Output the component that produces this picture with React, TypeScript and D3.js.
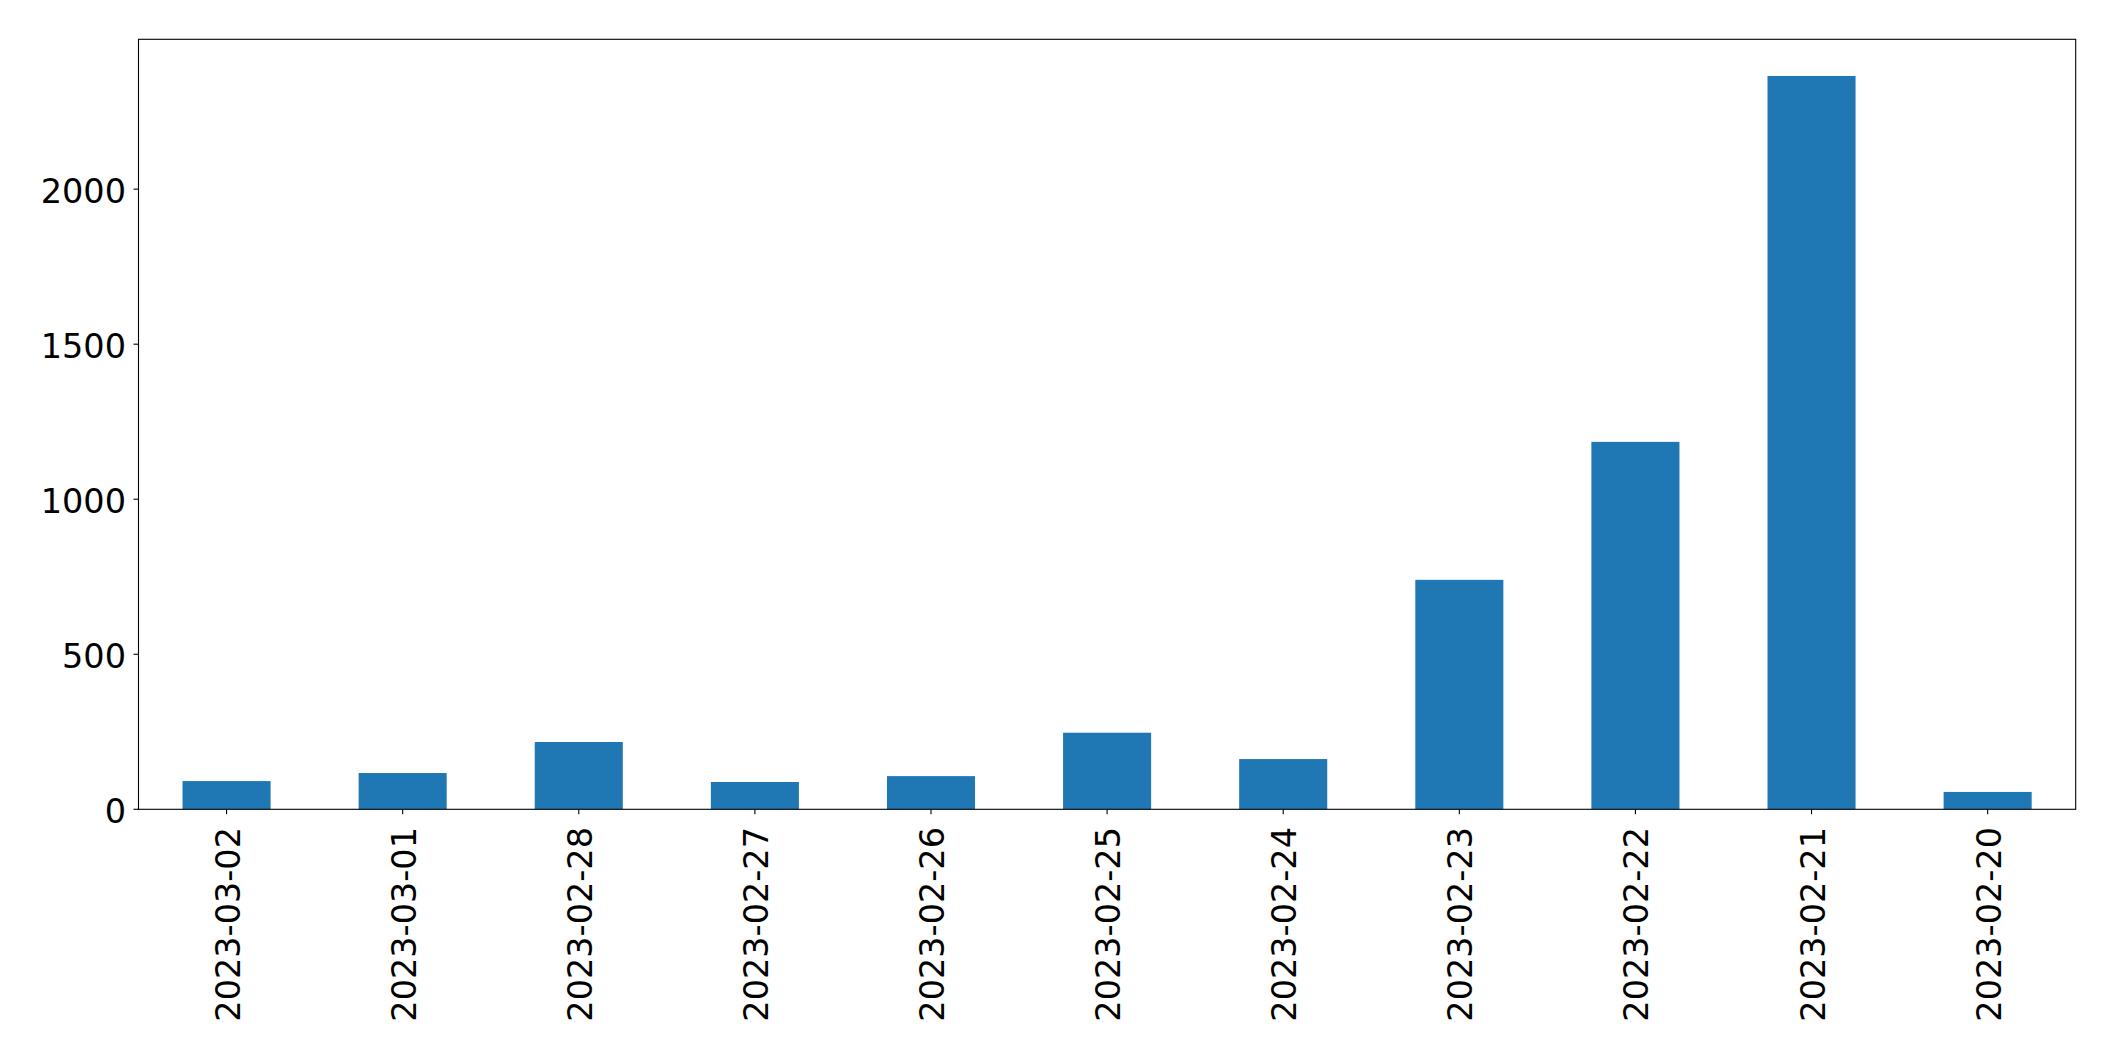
import React from "react";
import * as d3 from "d3";

const categories = [
  "2023-03-02", "2023-03-01", "2023-02-28", "2023-02-27", "2023-02-26", "2023-02-25",
  "2023-02-24", "2023-02-23", "2023-02-22", "2023-02-21", "2023-02-20",
];
const values = [91, 117, 217, 88, 107, 247, 162, 740, 1185, 2365, 56];
const yTicks = [0, 500, 1000, 1500, 2000];

const W = 2115;
const H = 1061;
const M = { left: 138.5, right: 2075.7, top: 39.3, bottom: 809.3 };
const FS = 33.5;
const FONT = "'DejaVu Sans', sans-serif";

export default function App() {
  const x = d3
    .scaleBand<string>()
    .domain(categories)
    .range([M.left, M.right])
    .paddingInner(0.5)
    .paddingOuter(0.25);
  const yMax = (d3.max(values) as number) * 1.05;
  const y = d3.scaleLinear().domain([0, yMax]).range([M.bottom, M.top]);

  return (
    <svg
      width={W}
      height={H}
      style={{ position: "absolute", left: 0, top: 0, background: "#fff" }}
      fontFamily={FONT}
    >
      <rect x={0} y={0} width={W} height={H} fill="#fff" />
      {categories.map((c, i) => (
        <rect
          key={c}
          x={x(c)}
          y={y(values[i])}
          width={x.bandwidth()}
          height={y(0) - y(values[i])}
          fill="#1f77b4"
        />
      ))}
      <rect
        x={M.left}
        y={M.top}
        width={M.right - M.left}
        height={M.bottom - M.top}
        fill="none"
        stroke="#000"
        strokeWidth={1.1}
      />
      {yTicks.map((t) => (
        <g key={t}>
          <line x1={M.left - 5} x2={M.left} y1={y(t)} y2={y(t)} stroke="#000" strokeWidth={1.1} />
          <text x={126} y={y(t) + 14} textAnchor="end" fontSize={FS} fill="#000">
            {t}
          </text>
        </g>
      ))}
      {categories.map((c) => {
        const cx = (x(c) as number) + x.bandwidth() / 2;
        return (
          <g key={c}>
            <line x1={cx} x2={cx} y1={M.bottom} y2={M.bottom + 5} stroke="#000" strokeWidth={1.1} />
            <text
              transform={`translate(${cx + 13},${827}) rotate(-90)`}
              textAnchor="end"
              fontSize={FS}
              fill="#000"
            >
              {c}
            </text>
          </g>
        );
      })}
    </svg>
  );
}
